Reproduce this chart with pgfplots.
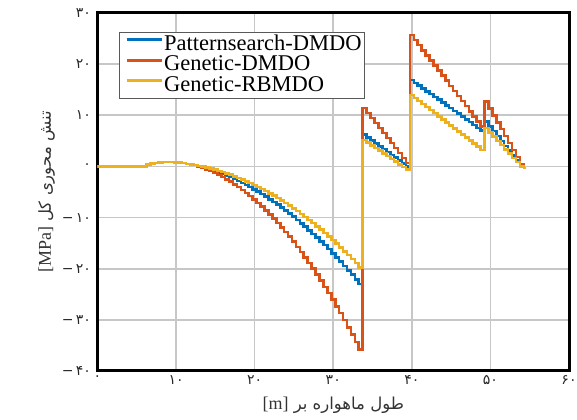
\documentclass[border=0pt]{standalone}
\usepackage{fontspec}
\setmainfont{Liberation Serif}
\newfontfamily\arabicfont[Script=Arabic]{DejaVu Sans}
\newfontfamily\digitfont{DejaVu Sans}
\TeXXeTstate=1
\usepackage{pgfplots}
\pgfplotsset{compat=1.18}
\usepackage{pgfplotstable}
\definecolor{mblue}{rgb}{0,0.447,0.741}
\definecolor{morange}{rgb}{0.85,0.325,0.098}
\definecolor{myellow}{rgb}{0.929,0.694,0.125}
\pgfplotstableread{
x blue orange yellow
0 0 0 0
6.25 0 0 0
6.75 0.35 0.35 0.35
7.25 0.55 0.55 0.55
7.75 0.7 0.7 0.7
8.25 0.8 0.8 0.8
8.75 0.85 0.85 0.85
9.25 0.85 0.85 0.85
9.75 0.85 0.85 0.85
10.25 0.8 0.8 0.8
10.75 0.75 0.75 0.75
11.25 0.65 0.65 0.65
11.75 0.5 0.5 0.5
12.25 0.4 0.4 0.4
12.75 0.25 0.25 0.25
13.25 0.1 0.0 0.1
13.75 -0.11 -0.29 -0.06
14.25 -0.34 -0.58 -0.24
14.75 -0.59 -0.90 -0.43
15.25 -0.86 -1.26 -0.64
15.75 -1.14 -1.64 -0.86
16.25 -1.44 -2.05 -1.10
16.75 -1.76 -2.50 -1.36
17.25 -2.10 -2.97 -1.63
17.75 -2.45 -3.48 -1.92
18.25 -2.82 -4.01 -2.23
18.75 -3.21 -4.58 -2.55
19.25 -3.61 -5.17 -2.89
19.75 -4.04 -5.80 -3.24
20.25 -4.48 -6.46 -3.61
20.75 -4.94 -7.15 -4.00
21.25 -5.41 -7.87 -4.40
21.75 -5.91 -8.62 -4.82
22.25 -6.42 -9.40 -5.25
22.75 -6.94 -10.21 -5.70
23.25 -7.49 -11.05 -6.17
23.75 -8.05 -11.92 -6.65
24.25 -8.63 -12.83 -7.15
24.75 -9.23 -13.76 -7.67
25.25 -9.85 -14.73 -8.20
25.75 -10.48 -15.72 -8.75
26.25 -11.13 -16.75 -9.31
26.75 -11.80 -17.80 -9.89
27.25 -12.49 -18.89 -10.49
27.75 -13.19 -20.01 -11.10
28.25 -13.91 -21.15 -11.73
28.75 -14.65 -22.33 -12.37
29.25 -15.40 -23.54 -13.03
29.75 -16.18 -24.78 -13.71
30.25 -16.97 -26.05 -14.40
30.75 -17.78 -27.35 -15.11
31.25 -18.60 -28.68 -15.84
31.75 -19.45 -30.04 -16.58
32.25 -20.31 -31.44 -17.34
32.75 -21.19 -32.86 -18.11
33.25 -22.08 -34.31 -18.90
33.75 -22.99 -35.80 -19.71
34.25 6.20 11.40 5.20
34.75 5.64 10.42 4.67
35.25 5.07 9.45 4.14
35.75 4.51 8.47 3.60
36.25 3.95 7.49 3.07
36.75 3.38 6.51 2.54
37.25 2.82 5.54 2.01
37.75 2.25 4.56 1.48
38.25 1.69 3.58 0.94
38.75 1.13 2.60 0.41
39.25 0.56 1.63 -0.12
39.75 0.00 0.65 -0.65
40.25 16.90 25.70 14.00
40.75 16.35 24.71 13.40
41.25 15.80 23.71 12.81
41.75 15.25 22.72 12.21
42.25 14.70 21.72 11.61
42.75 14.15 20.73 11.01
43.25 13.60 19.74 10.42
43.75 13.05 18.74 9.82
44.25 12.50 17.75 9.22
44.75 11.95 16.75 8.63
45.25 11.40 15.76 8.03
45.75 10.85 14.76 7.43
46.25 10.30 13.77 6.83
46.75 9.75 12.78 6.24
47.25 9.20 11.78 5.64
47.75 8.65 10.79 5.04
48.25 8.10 9.79 4.45
48.75 7.55 8.80 3.85
49.25 7.00 7.80 3.25
49.75 8.80 12.70 7.50
50.25 7.84 11.34 6.67
50.75 6.89 9.99 5.83
51.25 5.93 8.63 5.00
51.75 4.98 7.28 4.17
52.25 4.02 5.92 3.33
52.75 3.07 4.56 2.50
53.25 2.11 3.21 1.67
53.75 1.16 1.85 0.83
54.25 0.20 0.50 0.00
54.50 -0.30 -0.30 -0.30
}\data
\begin{document}
\begin{tikzpicture}
\begin{axis}[
  scale only axis, width=471.5pt, height=358pt,
  xmin=0, xmax=60, ymin=-40, ymax=30,
  xtick={0,10,...,60}, ytick={-40,-30,...,30},
  xticklabels={۰,۱۰,۲۰,۳۰,۴۰,۵۰,۶۰},
  yticklabels={−\,۴۰,−\,۳۰,−\,۲۰,−\,۱۰,۰,۱۰,۲۰,۳۰},
  ticklabel style={font=\digitfont\fontsize{14}{16}\selectfont, text=black!85},
  xticklabel style={yshift=-1pt},
  yticklabel style={xshift=-3pt},
  major tick length=0pt,
  grid=major,
  grid style={line width=1.6pt, color=black!22},
  axis line style={line width=3pt, black},
  xlabel={\arabicfont\fontsize{16.5}{18}\selectfont\beginR طول ماهواره بر \beginL{\normalfont\fontsize{18}{19}\selectfont[m]}\endL\endR},
  ylabel={\arabicfont\fontsize{16.5}{18}\selectfont\beginR تنش محوری کل \beginL{\normalfont\fontsize{18}{19}\selectfont[MPa]}\endL\endR},
  xlabel style={yshift=-5pt, text=black!80},
  ylabel style={yshift=0pt, text=black!80},
  legend cell align=left,
  legend style={at={(0.046,0.947)}, anchor=north west, draw=black!65, line width=0.8pt,
    font=\fontsize{22.5}{23}\selectfont, inner sep=2pt, row sep=0pt,
    nodes={inner sep=1pt, text height=13pt, text depth=3.5pt}},
  legend image code/.code={\path (0pt,0pt) (0pt,10pt); \draw[#1, line width=2.6pt] (4pt,6pt) -- (39pt,6pt);},
  every axis plot/.append style={line width=2.6pt, const plot mark right},
]
\addplot[mblue] table[x=x, y=blue] {\data};
\addlegendentry{Patternsearch-DMDO}
\addplot[morange] table[x=x, y=orange] {\data};
\addlegendentry{Genetic-DMDO}
\addplot[myellow] table[x=x, y=yellow] {\data};
\addlegendentry{Genetic-RBMDO}
\coordinate (SW) at (rel axis cs:0,0);
\coordinate (NE) at (rel axis cs:1,1);
\end{axis}
\pgfresetboundingbox
\path ([shift={(-97.5pt,-49pt)}]SW) rectangle ([shift={(8pt,13pt)}]NE);
\end{tikzpicture}
\end{document}
